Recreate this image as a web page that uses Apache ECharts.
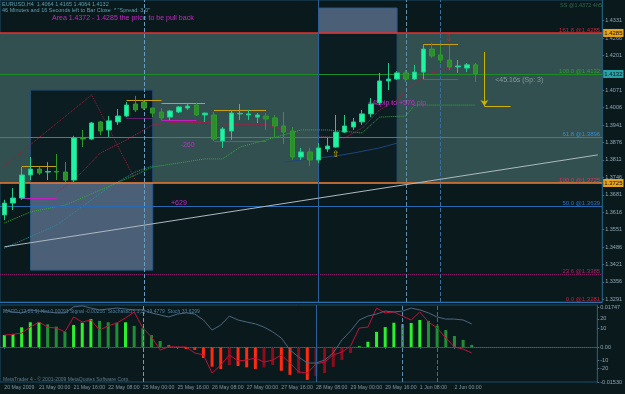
<!DOCTYPE html>
<html><head><meta charset="utf-8">
<script src="https://cdn.jsdelivr.net/npm/echarts@6/dist/echarts.min.js"></script>
<style>html,body{margin:0;padding:0;background:#0a1a1c;}#c{width:625px;height:394px;}</style>
</head><body><div id="c"></div>
<script>
// ---------------- data ----------------
const barCount = 69; // 55 bars + empty shift area
const timeTicks = ['20 May 2009','21 May 00:00','21 May 16:00','22 May 08:00','25 May 00:00','25 May 16:00','26 May 08:00','27 May 00:00','27 May 16:00','28 May 08:00','29 May 00:00','29 May 16:00','1 Jun 08:00','2 Jun 00:00'];
// [open, close, low, high]
const ohlc = [
[1.3606,1.3650,1.3587,1.3662],[1.3650,1.3669,1.3624,1.3706],[1.3669,1.3755,1.3662,1.3785],[1.3755,1.3777,1.3736,1.3822],
[1.3777,1.3762,1.3755,1.3785],[1.3766,1.3768,1.3736,1.3803],[1.3768,1.3766,1.3736,1.3833],[1.3766,1.3736,1.3729,1.3803],
[1.3736,1.3893,1.3729,1.3901],[1.3891,1.3889,1.3859,1.3923],[1.3889,1.3949,1.3886,1.3953],[1.3953,1.3919,1.3904,1.3957],
[1.3923,1.3957,1.3897,1.3975],[1.3953,1.3975,1.3942,1.4001],[1.3975,1.4016,1.3971,1.4027],[1.4020,1.3998,1.3990,1.4050],
[1.4027,1.4005,1.3998,1.4035],[1.4005,1.3986,1.3971,1.4005],[1.3990,1.3968,1.3960,1.4005],[1.3971,1.3994,1.3960,1.3998],
[1.3990,1.4009,1.3986,1.4012],[1.4005,1.4012,1.3998,1.4024],[1.4016,1.3979,1.3975,1.4024],[1.3979,1.3986,1.3953,1.3988],
[1.3979,1.3889,1.3882,1.3990],[1.3882,1.3927,1.3856,1.3934],[1.3919,1.3986,1.3886,1.3994],[1.3983,1.3985,1.3960,1.4020],
[1.3979,1.3983,1.3960,1.3998],[1.3971,1.3979,1.3949,1.3986],[1.3975,1.3964,1.3923,1.3986],[1.3968,1.3938,1.3893,1.3979],
[1.3938,1.3915,1.3871,1.3990],[1.3919,1.3822,1.3811,1.3934],[1.3822,1.3841,1.3811,1.3856],[1.3841,1.3811,1.3789,1.3856],
[1.3811,1.3856,1.3800,1.3874],[1.3852,1.3863,1.3841,1.3893],[1.3859,1.3915,1.3856,1.3979],[1.3915,1.3938,1.3912,1.3979],
[1.3934,1.3953,1.3923,1.3968],[1.3953,1.3983,1.3942,1.3998],[1.3983,1.4020,1.3971,1.4042],[1.4024,1.4106,1.4016,1.4136],
[1.4106,1.4113,1.4072,1.4173],[1.4113,1.4136,1.4110,1.4143],[1.4136,1.4113,1.4102,1.4147],[1.4113,1.4139,1.4110,1.4166],
[1.4139,1.4225,1.4113,1.4240],[1.4225,1.4199,1.4192,1.4248],[1.4203,1.4184,1.4173,1.4240],[1.4184,1.4158,1.4147,1.4240],
[1.4158,1.4162,1.4136,1.4184],[1.4154,1.4166,1.4139,1.4173],[1.4166,1.4132,1.4102,1.4173]
];
const priceTicks = [1.4331,1.4266,1.4201,1.4071,1.4006,1.3941,1.3876,1.3811,1.3746,1.3681,1.3616,1.3551,1.3486,1.3421,1.3356,1.3291];
const fibPrices = [1.4285,1.4132,1.3896,1.3725,1.3639,1.3385,1.3281];
const fibLabels = ['161.8 @1.4285','100.0 @1.4132','61.8 @1.3896','100.0 @1.3725','50.0 @1.3639','23.6 @1.3385','0.0 @1.3281'];
const priceBoxes = [1.4285,1.4132,1.3725];
// moving averages: [bar, price]
const redMA = [[6,1.3691],[8,1.3736],[11,1.3837],[14,1.3886],[17,1.3942],[20,1.3953],[24,1.3949],[27,1.3942],[30,1.3942],[33,1.3915],[36,1.3900],[39,1.3893],[41,1.3930],[43,1.3998],[45,1.4035],[47,1.4098],[49,1.4136],[52,1.4162],[54,1.4173]];
const greenMA = [[0,1.3576],[3,1.3617],[7,1.3643],[11,1.3699],[15,1.3755],[17,1.3785],[20,1.3800],[23,1.3815],[25,1.3815],[27,1.3859],[30,1.3886],[34,1.3923],[37,1.3923],[41,1.3912],[43,1.3971],[46,1.3975],[47,1.4016],[54,1.4016]];
const tealMA = [[0,1.3482],[6,1.3568],[12,1.3710],[15,1.3766],[17,1.3789]];
const blueMA = [[32,1.3803],[34,1.3811],[38,1.3826],[40,1.3837],[43,1.3856],[45,1.3874]];
const zigzag = [[0,1.3789],[10,1.4054],[15,1.3736]];
const trendLine = [[0,1.3487],[68,1.3830]];
// small range lines: [fromBar, toBar, price]
const goldRanges = [[2,6,1.3789],[14,18,1.4035],[18,23,1.4022],[24,30,1.3998],[48,52,1.4244]];
const magentaRanges = [[2,6,1.3669],[14,17,1.3968],[18,22,1.3960],[24,30,1.3882],[48,52,1.4113]];
const targetArrow = [55,1.4214,1.4012];
const targetLine = [55,58,1.4012];
// zones: [fromBar, toBar, topPrice, bottomPrice]
const mainZone = [1.4285,1.3725];
const darkRects = [[3,17,1.4072,1.3725],[36,45,1.4285,1.3725]];
const greyRects = [[3,17,1.3725,1.3400],[36,45,1.4378,1.4285]];
const vLines = [16,36,46,50];
const annotations = [
  [21,1.3867,'-260'],[20,1.3650,'+629'],[45,1.4024,'+48pip to +576 pip'],
  [59,1.4110,'<45.16s (Sp: 3)'],[38,1.3833,'⇧'],[51,1.4266,'⇩']
];
// indicator panel (units of 0.0001)
const macdHist = [52,57,86,108,109,99,89,67,96,106,122,114,108,106,108,92,82,52,26,9,1,-9,-13,-48,-86,-96,-79,-83,-89,-96,-89,-79,-104,-122,-115,-144,-127,-114,-87,-57,-26,3,23,66,87,106,100,105,118,114,93,74,48,31,9];
const macdSignal = [52,55,61,87,109,87,83,66,131,109,118,74,92,105,127,153,83,44,-13,1,0,0,-26,-35,-114,-79,-35,-61,-57,-48,-66,-57,-35,-70,-109,-114,-74,-66,-35,-22,4,83,87,170,149,153,135,118,153,109,83,39,0,-9,-26];
const stochLine = [162,153,149,162,157,153,149,149,175,180,170,162,166,170,166,162,162,149,140,131,144,149,144,118,74,96,135,118,109,101,87,66,39,-13,-44,-70,-70,-57,-26,31,70,118,135,144,157,153,157,170,162,149,131,122,122,118,101];
const macdTickValues = [174.7,122.4,83,0,-56.8,-91.8,-153];
const macdTickLabels = ['0.01747','20','10','0.00','-10','-20','-0.01530'];

// ---------------- chart ----------------
const cats = Array.from({length: barCount}, (_, i) => String(i));
const sparse = pts => { const a = new Array(barCount).fill(null); pts.forEach(p => a[p[0]] = p[1]); return a; };
const fibColors = ['#e8302e','#1f8a2a','#2f7fc8','#f07a30','#2a68b0','#8a1f6a','#2a6fa8'];
const fibTextColors = ['#c8203a','#2ca02c','#3a8ad0','#d03a60','#2f70c0','#b0206a','#c02040'];
const boxColors = ['#e8a317','#2aa3a8','#e8a317'];
const FONT = 'Liberation Sans';
const solid = (color, width, type) => ({color, width: width || 1, type: type || 'solid'});

const markLineData = [];
fibPrices.forEach((p, i) => {
  markLineData.push({yAxis: p, lineStyle: solid(fibColors[i], (i===0||i===3)?1.5:1, i===5?'dotted':'solid'),
    label: {show: true, position: 'insideEndTop', formatter: fibLabels[i], color: fibTextColors[i], fontSize: 6, fontFamily: FONT, distance: [2,0]}});
});
priceBoxes.forEach((p, i) => {
  markLineData.push({yAxis: p, lineStyle: {width: 0, color: 'rgba(0,0,0,0)'},
    label: {show: true, position: 'end', formatter: p.toFixed(4), backgroundColor: boxColors[i], color: '#111', fontSize: 6, fontFamily: FONT, padding: [1,1], distance: 1}});
});
const vStyles = [
  solid('#6a9ec0', 1, 'dashed'),
  solid('#2a5f9a', 1, 'solid'),
  solid('#5a8fb0', 1, 'dashed'),
  solid('#3a6f9a', 1, 'dashed')
];
vLines.forEach((b, i) => markLineData.push({xAxis: b, lineStyle: vStyles[i]}));
markLineData.push([{coord: trendLine[0], lineStyle: solid('#aeb8c2')}, {coord: trendLine[1]}]);
goldRanges.forEach(r => markLineData.push([{coord:[r[0], r[2]], lineStyle: solid('#c8a018')}, {coord:[r[1], r[2]]}]));
magentaRanges.forEach((r, i) => markLineData.push([{coord:[r[0], r[2]], lineStyle: solid('#c020c0', 1, i===1?'dotted':'solid')}, {coord:[r[1], r[2]]}]));
markLineData.push([{coord:[targetArrow[0], targetArrow[1]], lineStyle: solid('#c8b400')}, {coord:[targetArrow[0], targetArrow[2]], symbol:'arrow', symbolSize:[6,6]}]);
markLineData.push([{coord:[targetLine[0], targetLine[2]], lineStyle: solid('#d0b000')}, {coord:[targetLine[1], targetLine[2]]}]);

const areaData = [[{yAxis: mainZone[0], itemStyle:{color:'#31504f'}}, {yAxis: mainZone[1]}]];
darkRects.forEach(r => areaData.push([{xAxis:r[0], yAxis:r[2], itemStyle:{color:'#0c1d21', borderColor:'#234c78', borderWidth:1}}, {xAxis:r[1], yAxis:r[3]}]));
greyRects.forEach(r => areaData.push([{xAxis:r[0], yAxis:r[2], itemStyle:{color:'#4b5f76', borderColor:'#2c5a86', borderWidth:1}}, {xAxis:r[1], yAxis:r[3]}]));

const annColors = ['#c030c8','#c030c8','#c030c8','#8a9a9c','#d8b800','#d02030'];
const annSizes = [7,7,7,7,9,9];
const markPointData = annotations.map((a, i) => ({coord:[a[0], a[1]], symbolSize: 0,
  label:{show:true, position:'inside', formatter:a[2], color:annColors[i], fontSize:annSizes[i], fontFamily:FONT}}));

const histColors = macdHist.map((v, i) => {
  const prev = i > 0 ? macdHist[i-1] : v;
  if (v >= 0) return v >= prev ? '#2cf02c' : '#1f8f37';
  return v <= prev ? '#ff2a10' : '#8c0c1c';
});

const option = {
  backgroundColor: '#0a1a1c',
  animation: false,
  textStyle: {fontFamily: FONT},
  grid: [
    {left: -1.7, right: 21, top: 0, height: 302, show: true, borderColor: '#1c4a66', borderWidth: 1, backgroundColor: 'transparent'},
    {left: -1.7, right: 21, top: 305, height: 77, show: true, borderColor: '#1c4a66', borderWidth: 1, backgroundColor: 'transparent'}
  ],
  xAxis: [
    {type:'category', gridIndex:0, data:cats, boundaryGap:true, axisLine:{show:false}, axisTick:{show:false}, axisLabel:{show:false}, splitLine:{show:false}},
    {type:'category', gridIndex:1, data:cats, boundaryGap:true,
      axisLine:{show:true, lineStyle:{color:'#1f5070'}},
      axisTick:{show:true, alignWithLabel:true, length:2, interval:(i)=> i%4===0 && i<55, lineStyle:{color:'#4a7090'}},
      axisLabel:{show:true, interval:(i)=> i%4===0 && i<55, formatter:(v, i)=> timeTicks[i/4] || '', color:'#7f94a2', fontSize:5.2, fontFamily:FONT, align:'left', margin:3},
      splitLine:{show:false}}
  ],
  yAxis: [
    {type:'value', gridIndex:0, position:'right', min:1.3281, max:1.4408,
      axisLine:{show:true, lineStyle:{color:'#1f5a7a'}},
      axisTick:{show:true, length:2, customValues:priceTicks, lineStyle:{color:'#3a6a8a'}},
      axisLabel:{show:true, customValues:priceTicks, formatter:v=>v.toFixed(4), color:'#93a8b6', fontSize:5.5, fontFamily:FONT, margin:3},
      splitLine:{show:false}},
    {type:'value', gridIndex:1, position:'right', min:-153, max:183.5,
      axisLine:{show:true, lineStyle:{color:'#1f5a7a'}},
      axisTick:{show:true, length:2, customValues:macdTickValues, lineStyle:{color:'#3a6a8a'}},
      axisLabel:{show:true, customValues:macdTickValues, color:'#93a8b6', fontSize:5.5, fontFamily:FONT, margin:3,
        formatter:v=>{ let best=-1, bd=1e9; macdTickValues.forEach((t,i)=>{const d=Math.abs(t-v); if(d<bd){bd=d;best=i;}}); return bd<1?macdTickLabels[best]:''; }},
      splitLine:{show:false}}
  ],
  series: [
    {type:'line', name:'zones', xAxisIndex:0, yAxisIndex:0, data:[], z:1, silent:true,
      markArea:{silent:true, data:areaData}},
    {type:'line', name:'levels', xAxisIndex:0, yAxisIndex:0, data:[], z:2, silent:true, clip:false,
      markLine:{silent:true, precision:5, symbol:['none','none'], label:{show:false}, lineStyle:{type:'solid'}, data:markLineData, animation:false}},
    {type:'line', name:'zigzag', data:sparse(zigzag), connectNulls:true, showSymbol:false, z:3, lineStyle:{color:'#a8163a', width:1, type:'dotted'}},
    {type:'line', name:'tealMA', data:sparse(tealMA), connectNulls:true, showSymbol:false, z:3, lineStyle:{color:'#2a8fa0', width:1, type:'dotted'}},
    {type:'line', name:'greenMA', data:sparse(greenMA), connectNulls:true, showSymbol:false, z:3, lineStyle:{color:'#30b030', width:1, type:'dotted'}},
    {type:'line', name:'redMA', data:sparse(redMA), connectNulls:true, showSymbol:false, z:3, lineStyle:{color:'#b8184a', width:1, type:'dotted'}},
    {type:'line', name:'blueMA', data:sparse(blueMA), connectNulls:true, showSymbol:false, z:3, lineStyle:{color:'#1f4580', width:1}},
    {type:'candlestick', name:'EURUSD', xAxisIndex:0, yAxisIndex:0, data:ohlc, barWidth:5, z:5,
      itemStyle:{color:'#1df5a0', color0:'#2b8f2b', borderColor:'#22c98c', borderColor0:'#2e9a2e', borderWidth:1},
      markPoint:{silent:true, data:markPointData}},
    {type:'bar', name:'hist', xAxisIndex:1, yAxisIndex:1, barWidth:3, z:3,
      data: macdHist.map((v,i)=>({value:v, itemStyle:{color:histColors[i]}})),
      markLine:{silent:true, precision:5, symbol:['none','none'], label:{show:false},
        data:[{yAxis:0, lineStyle:solid('#a8208e', 1, 'dotted')}].concat(vLines.map((b,i)=>({xAxis:b, lineStyle:vStyles[i]})))}},
    {type:'line', name:'signal', xAxisIndex:1, yAxisIndex:1, data:macdSignal, showSymbol:false, z:4, lineStyle:{color:'#c2103a', width:1}},
    {type:'line', name:'stoch', xAxisIndex:1, yAxisIndex:1, data:stochLine, showSymbol:false, z:4, lineStyle:{color:'#4e6680', width:1}}
  ],
  graphic: [
    {type:'text', left:2, top:1, style:{text:'EURUSD,H4  1.4064 1.4165 1.4064 1.4132', fill:'#5f9fb0', fontSize:5.5, fontFamily:FONT}},
    {type:'text', left:2, top:7, style:{text:'46 Minutes and 16 Seconds left to Bar Close  * "Spread: 3.0"', fill:'#5f9fb0', fontSize:5.5, fontFamily:FONT}},
    {type:'text', left:52, top:15, style:{text:'Area 1.4372 - 1.4285 the price to be pull back', fill:'#c828c8', fontSize:7, fontFamily:FONT}},
    {type:'text', right:23, top:2, style:{text:'SS @1.4372 4h5', fill:'#2f6a4a', fontSize:5.5, fontFamily:FONT}},
    {type:'text', left:3, top:309, style:{text:'MACD (12,26,9) Hist 0.00093 Signal -0.00216  Stochastic(5,3,3) 19.4779  Stoch 33.6299', fill:'#4f7fa0', fontSize:5, fontFamily:FONT}},
    {type:'text', left:3, top:377, style:{text:'MetaTrader 4 - © 2001-2009 MetaQuotes Software Corp.', fill:'#5f7a8a', fontSize:5, fontFamily:FONT}}
  ]
};
const chart = echarts.init(document.getElementById('c'), null, {renderer:'canvas', width:625, height:394});
chart.setOption(option);
</script>
</body></html>
